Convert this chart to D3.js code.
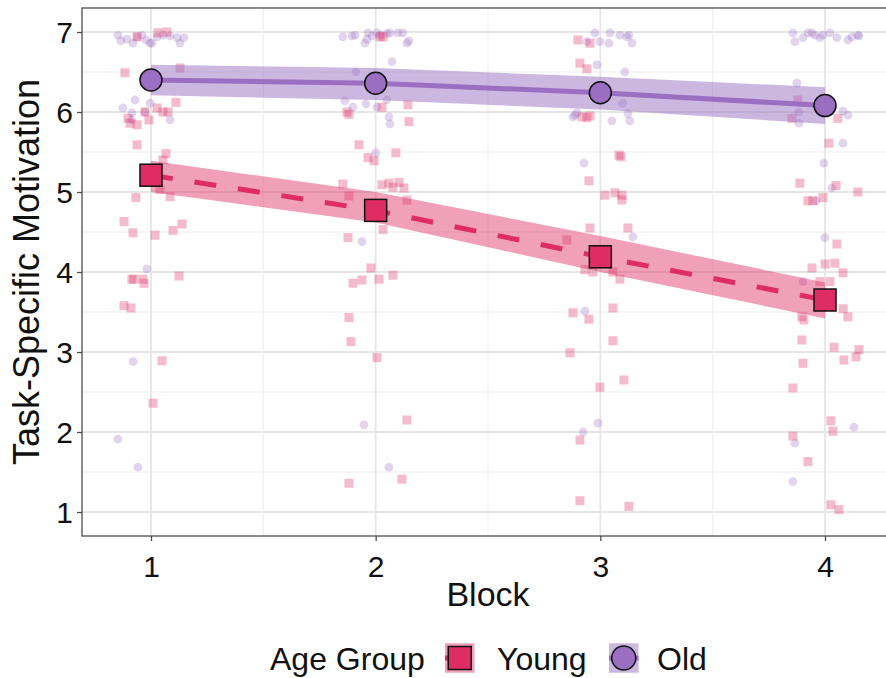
<!DOCTYPE html>
<html><head><meta charset="utf-8">
<script src="https://cdn.jsdelivr.net/npm/d3@7"></script>
<style>html,body{margin:0;padding:0;background:#fff;} svg{display:block;font-family:"Liberation Sans",Arial,Helvetica,sans-serif;}</style>
</head><body>
<svg id="chart" width="886" height="678"></svg>
<script>
// ---------- data ----------
const blocks = [1, 2, 3, 4];
const yTicks = [1, 2, 3, 4, 5, 6, 7];
const groups = ["Young", "Old"];

const youngMean = [5.21, 4.77, 4.19, 3.65];
const youngLo   = [5.00, 4.62, 4.00, 3.42];
const youngHi   = [5.39, 5.00, 4.45, 3.87];

const oldMean = [6.40, 6.36, 6.24, 6.08];
const oldLo   = [6.21, 6.15, 6.03, 5.85];
const oldHi   = [6.59, 6.55, 6.44, 6.31];

// jittered raw observations [block position, value]
const oldPts = [
  [0.853,6.96],[0.866,6.89],[0.893,6.91],[0.92,6.86],[0.938,6.94],[0.96,6.96],[0.978,6.9],[0.996,6.86],[1.004,6.86],[1.027,6.94],[1.053,6.96],[1.085,6.95],[1.116,6.93],[1.129,6.86],[1.147,6.93],
  [0.875,6.05],[0.915,5.99],[0.929,6.15],[0.996,6.11],[0.973,6.0],[1.085,5.9],[0.915,5.9],[0.982,4.04],[0.92,2.88],[0.853,1.91],[0.942,1.56],
  [1.854,6.94],[1.895,6.95],[1.908,6.96],[1.952,6.86],[1.961,6.91],[1.966,6.99],[1.984,6.95],[2.006,6.99],[2.02,6.96],[2.05,6.98],[2.064,6.99],[2.099,6.99],[2.121,6.99],[2.139,6.86],[2.148,6.89],
  [2.073,6.63],[1.912,6.5],[1.863,6.14],[1.899,6.06],[1.957,6.1],[2.006,6.06],[2.05,6.15],[2.059,5.94],[2.064,5.85],[2.001,5.49],[1.939,4.38],[1.948,2.09],[2.059,1.56],
  [2.976,6.99],[2.94,6.88],[2.998,6.88],[3.043,6.99],[3.087,6.96],[3.118,6.94],[3.127,6.96],[3.141,6.86],[3.038,6.86],
  [2.985,6.59],[2.887,5.96],[2.878,5.94],[2.896,5.99],[2.927,5.36],[3.109,6.5],[3.1,6.11],[3.123,5.98],[3.051,5.89],[3.131,5.89],[3.145,4.44],[2.931,3.51],[2.923,2.0],[2.99,2.11],
  [3.857,6.99],[3.866,6.88],[3.902,6.93],[3.924,6.99],[3.942,6.99],[3.955,6.96],[3.977,6.93],[3.991,6.96],[4.022,6.99],[4.053,6.93],[4.102,6.9],[4.12,6.94],[4.146,6.96],[4.151,6.95],
  [3.875,6.36],[3.884,6.0],[3.884,5.86],[4.08,6.01],[4.102,5.96],[4.08,5.61],[3.995,5.36],[4.031,5.05],[3.959,4.89],[3.999,4.43],[3.902,3.88],[4.129,2.06],[3.866,1.86],[3.857,1.38]
];
const youngPts = [
  [0.938,6.94],[1.031,6.99],[1.071,7.0],[0.884,6.49],[1.129,6.55],[1.111,6.12],
  [0.898,5.92],[0.907,5.86],[0.938,5.84],[0.973,6.0],[0.991,5.9],[1.027,6.05],[1.053,6.0],[1.076,6.0],
  [0.938,5.59],[1.067,5.48],[1.053,5.4],[1.027,5.15],[1.04,5.03],[1.085,4.94],[0.933,4.93],[0.88,4.63],[0.92,4.49],[1.018,4.46],[1.098,4.52],[1.138,4.6],
  [0.915,3.91],[0.924,3.91],[0.964,3.91],[0.969,3.86],[1.125,3.95],[0.88,3.58],[0.911,3.55],[1.049,2.89],[1.009,2.36],
  [2.02,6.94],[2.033,6.94],[1.872,6.0],[1.881,5.97],[2.028,6.06],[2.144,6.09],[2.148,5.88],[1.926,5.59],[1.966,5.43],[1.993,5.39],[2.09,5.49],
  [1.854,5.1],[1.881,4.95],[2.028,5.09],[2.059,5.11],[2.077,5.06],[2.104,5.12],[2.126,5.05],[2.139,4.9],[2.033,4.53],[1.877,4.43],
  [1.979,4.05],[1.899,3.86],[1.939,3.9],[2.015,3.91],[2.077,3.96],[1.881,3.43],[1.89,3.13],[2.006,2.93],[2.139,2.15],[1.881,1.36],[2.117,1.41],
  [2.9,6.9],[2.954,6.86],[2.909,6.61],[2.94,6.54],[2.918,5.94],[2.94,5.93],[2.954,5.95],[2.949,5.14],[3.083,5.46],[3.092,5.44],[3.02,4.96],[3.065,4.99],[3.096,4.96],[3.096,4.9],[3.123,4.55],[2.954,4.55],[2.851,4.4],
  [2.931,4.03],[2.967,4.0],[2.878,3.49],[2.949,3.41],[2.865,2.99],[2.909,1.9],[2.909,1.14],[2.998,2.56],[3.056,4.0],[3.087,3.91],[3.056,3.55],[3.056,3.14],[3.105,2.65],[3.127,1.07],
  [3.879,6.15],[3.853,5.92],[4.057,5.92],[4.017,5.61],[3.888,5.11],[4.049,5.08],[4.146,5.0],[3.924,4.89],[3.946,4.89],[3.991,4.93],[4.053,4.35],
  [3.942,4.05],[4.0,4.1],[4.044,4.11],[4.08,3.99],[4.022,3.88],[3.977,3.88],[3.897,3.44],[3.906,3.4],[4.08,3.54],[4.102,3.44],[3.897,3.15],[4.04,3.06],[4.151,3.03],[4.138,2.94],[4.084,2.9],[3.902,2.86],
  [3.857,2.55],[4.026,2.14],[4.035,2.01],[3.857,1.95],[3.924,1.63],[4.026,1.09],[4.062,1.03]
];

// ---------- styles ----------
const colYoung = "#de2d64", colOld = "#9a6fc1";
const svg = d3.select("#chart");
const panel = {left: 82, right: 894, top: 8, bottom: 536};

const x = d3.scaleLinear().domain([0.693, 4.307]).range([panel.left, panel.right]);
const y = d3.scaleLinear().domain([0.7, 7.3]).range([panel.bottom, panel.top]);

svg.append("defs").append("clipPath").attr("id","clip").append("rect")
  .attr("x", panel.left).attr("y", panel.top).attr("width", panel.right-panel.left).attr("height", panel.bottom-panel.top);

// grid
const g = svg.append("g");
const yMinor = d3.range(1.5, 7, 1);
const xMinor = [1.5, 2.5, 3.5];
g.selectAll(".ymin").data(yMinor).join("line").attr("x1",panel.left).attr("x2",panel.right)
  .attr("y1",d=>y(d)).attr("y2",d=>y(d)).attr("stroke","#ededed").attr("stroke-width",1);
g.selectAll(".xmin").data(xMinor).join("line").attr("y1",panel.top).attr("y2",panel.bottom)
  .attr("x1",d=>x(d)).attr("x2",d=>x(d)).attr("stroke","#ededed").attr("stroke-width",1);
g.selectAll(".ymaj").data(yTicks).join("line").attr("x1",panel.left).attr("x2",panel.right)
  .attr("y1",d=>y(d)).attr("y2",d=>y(d)).attr("stroke","#e6e6e6").attr("stroke-width",1.8);
g.selectAll(".xmaj").data(blocks).join("line").attr("y1",panel.top).attr("y2",panel.bottom)
  .attr("x1",d=>x(d)).attr("x2",d=>x(d)).attr("stroke","#e6e6e6").attr("stroke-width",1.8);

const plot = svg.append("g").attr("clip-path","url(#clip)");

// raw points
plot.selectAll(".op").data(oldPts).join("circle")
  .attr("cx",d=>x(d[0])).attr("cy",d=>y(d[1])).attr("r",4.4)
  .attr("fill",colOld).attr("fill-opacity",0.3);
const sq = 9;
plot.selectAll(".yp").data(youngPts).join("rect")
  .attr("x",d=>x(d[0])-sq/2).attr("y",d=>y(d[1])-sq/2).attr("width",sq).attr("height",sq)
  .attr("fill",colYoung).attr("fill-opacity",0.32);

// ribbons
const area = (lo, hi) => d3.area().x((d,i)=>x(blocks[i])).y0((d,i)=>y(lo[i])).y1((d,i)=>y(hi[i]))(blocks);
plot.append("path").attr("d", area(oldLo, oldHi)).attr("fill", colOld).attr("fill-opacity", 0.5);
plot.append("path").attr("d", area(youngLo, youngHi)).attr("fill", colYoung).attr("fill-opacity", 0.45);

// lines
const line = m => d3.line().x((d,i)=>x(blocks[i])).y((d,i)=>y(m[i]))(blocks);
plot.append("path").attr("d", line(oldMean)).attr("fill","none").attr("stroke",colOld).attr("stroke-width",5);
plot.append("path").attr("d", line(youngMean)).attr("fill","none").attr("stroke",colYoung).attr("stroke-width",5)
  .attr("stroke-dasharray","22,22");

// mean markers
const ms = 22;
plot.selectAll(".om").data(blocks).join("circle")
  .attr("cx",d=>x(d)).attr("cy",(d,i)=>y(oldMean[i])).attr("r",11)
  .attr("fill",colOld).attr("stroke","#111").attr("stroke-width",1.5);
plot.selectAll(".ym").data(blocks).join("rect")
  .attr("x",d=>x(d)-ms/2).attr("y",(d,i)=>y(youngMean[i])-ms/2).attr("width",ms).attr("height",ms)
  .attr("fill",colYoung).attr("stroke","#111").attr("stroke-width",1.5);

// border
svg.append("rect").attr("x",panel.left).attr("y",panel.top).attr("width",panel.right-panel.left).attr("height",panel.bottom-panel.top)
  .attr("fill","none").attr("stroke","#4d4d4d").attr("stroke-width",1.3);

// axes
const xAxis = d3.axisBottom(x).tickValues(blocks).tickSize(5).tickPadding(8).tickFormat(d3.format("d"));
const ax = svg.append("g").attr("transform",`translate(0,${panel.bottom})`).call(xAxis);
const yAxis = d3.axisLeft(y).tickValues(yTicks).tickSize(5).tickPadding(4).tickFormat(d3.format("d"));
const ay = svg.append("g").attr("transform",`translate(${panel.left},0)`).call(yAxis);
[ax, ay].forEach(a => {
  a.select(".domain").remove();
  a.selectAll(".tick line").attr("stroke","#4d4d4d").attr("stroke-width",1.3);
  a.selectAll(".tick text").attr("fill","#111").style("font-size","30px").attr("font-family",null);
});
ax.selectAll(".tick text").attr("dy","0.92em");
ay.selectAll(".tick text").attr("dy","0.36em");

// titles
svg.append("text").attr("x",(panel.left+panel.right)/2).attr("y",606).attr("text-anchor","middle")
  .style("font-size","34px").attr("fill","#111").text("Block");
svg.append("text").attr("transform",`translate(39,${(panel.top+panel.bottom)/2}) rotate(-90)`).attr("text-anchor","middle")
  .style("font-size","36px").attr("fill","#111").text("Task-Specific Motivation");

// legend
const lg = svg.append("g");
const lgBase = 670;
lg.append("text").attr("x",270).attr("y",lgBase).style("font-size","32px").attr("fill","#111").text("Age Group");
const keys = [
  {name: groups[0], kx: 445, tx: 497, col: colYoung, op: 0.45, shape: "square", dash: "22,22"},
  {name: groups[1], kx: 609, tx: 657, col: colOld, op: 0.5, shape: "circle", dash: null}
];
keys.forEach(k => {
  const cy = 658;
  lg.append("rect").attr("x",k.kx).attr("y",cy-14.75).attr("width",29.5).attr("height",29.5)
    .attr("fill",k.col).attr("fill-opacity",k.op);
  lg.append("line").attr("x1",k.kx).attr("x2",k.kx+29.5).attr("y1",cy).attr("y2",cy)
    .attr("stroke",k.col).attr("stroke-width",5).attr("stroke-dasharray",k.dash);
  if (k.shape === "square") {
    lg.append("rect").attr("x",k.kx+14.75-11.5).attr("y",cy-11.5).attr("width",23).attr("height",23)
      .attr("fill",k.col).attr("stroke","#111").attr("stroke-width",1.5);
  } else {
    lg.append("circle").attr("cx",k.kx+14.75).attr("cy",cy).attr("r",12)
      .attr("fill",k.col).attr("stroke","#111").attr("stroke-width",1.5);
  }
  lg.append("text").attr("x",k.tx).attr("y",lgBase).style("font-size","32px").attr("fill","#111").text(k.name);
});
</script>
</body></html>
